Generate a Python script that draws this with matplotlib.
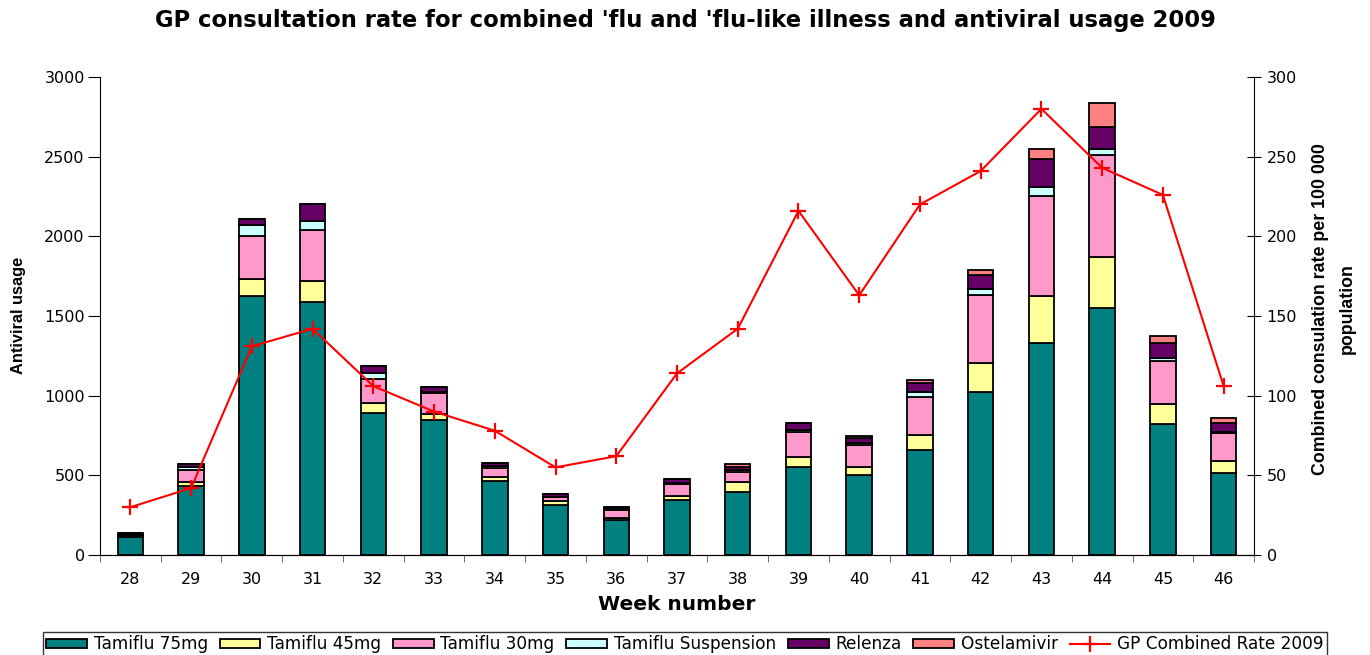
import matplotlib
matplotlib.use("Agg")
import matplotlib.pyplot as plt
import numpy as np
from matplotlib.patches import Patch
from matplotlib.lines import Line2D

plt.rcParams['font.family'] = ['DejaVu Sans']

weeks = [28, 29, 30, 31, 32, 33, 34, 35, 36, 37, 38, 39, 40, 41, 42, 43, 44, 45, 46]
tamiflu_75 = [115, 433, 1625, 1586, 893, 847, 464, 314, 220, 345, 395, 552, 502, 659, 1021, 1329, 1548, 822, 517]
tamiflu_45 = [3, 27, 109, 136, 59, 38, 26, 23, 14, 23, 61, 61, 48, 92, 182, 296, 324, 126, 75]
tamiflu_30 = [5, 73, 268, 318, 153, 130, 58, 25, 48, 76, 67, 157, 140, 243, 429, 628, 638, 271, 172]
tamiflu_susp = [2, 21, 69, 54, 39, 7, 10, 5, 5, 10, 8, 14, 10, 27, 37, 57, 40, 19, 6]
relenza = [11, 15, 36, 107, 42, 34, 19, 18, 14, 25, 19, 42, 32, 61, 88, 173, 138, 91, 56]
ostelamivir = [0, 0, 0, 0, 0, 0, 0, 0, 0, 0, 21, 4, 17, 16, 32, 67, 147, 45, 32]
gp_rate = [30, 42, 131, 142, 106, 90, 78, 55, 62, 114, 142, 216, 163, 220, 241, 280, 243, 226, 106]

series = [
    ("Tamiflu 75mg", tamiflu_75, "#008080"),
    ("Tamiflu 45mg", tamiflu_45, "#FFFF99"),
    ("Tamiflu 30mg", tamiflu_30, "#FF99CC"),
    ("Tamiflu Suspension", tamiflu_susp, "#CCFFFF"),
    ("Relenza", relenza, "#660066"),
    ("Ostelamivir", ostelamivir, "#FF8080"),
]

W, H = 1370, 655
fig = plt.figure(figsize=(13.7, 6.55), dpi=100)
ax = fig.add_axes([100/W, 100/H, 1154/W, 478/H])
x = np.arange(len(weeks))
bottom = np.zeros(len(weeks))
handles = []
for name, vals, col in series:
    v = np.array(vals, dtype=float)
    ax.bar(x, v, bottom=bottom, width=0.42, color=col, edgecolor="black", linewidth=1.3, zorder=2)
    bottom += v
    handles.append(Patch(facecolor=col, edgecolor="black", linewidth=1.3, label=name))

ax.set_xlim(-0.5, len(weeks) - 0.5)
ax.set_ylim(0, 3000)
ax.set_yticks(np.arange(0, 3001, 500))
ax.set_xticks(x)
ax.set_xticklabels([str(w) for w in weeks])
ax.set_xticks(np.arange(-0.5, len(weeks), 1), minor=True)
ax.tick_params(axis='x', which='major', length=0, labelsize=11.5, pad=12)
ax.tick_params(axis='x', which='minor', length=5, direction='out', color='#555555')
ax.tick_params(axis='y', which='major', length=9, direction='out', labelsize=11.5, pad=2)
ax.spines['top'].set_visible(False)
ax.spines['right'].set_visible(False)

ax2 = ax.twinx()
ax2.plot(x, gp_rate, color="#FF0000", marker='+', markersize=12, markeredgewidth=1.6, linewidth=1.5, zorder=3)
ax2.set_ylim(0, 300)
ax2.set_yticks(np.arange(0, 301, 50))
ax2.tick_params(axis='y', length=10, direction='inout', labelsize=11.5, pad=4)
ax2.spines['top'].set_visible(False)
ax2.spines['left'].set_visible(False)

fig.text(677/W, 1 - 604/H, "Week number", ha='center', va='center', fontsize=14.5, fontweight='bold')
fig.text(19/W, 1 - 315/H, "Antiviral usage", ha='center', va='center', rotation=90,
         fontsize=11.8, fontweight='bold', family=['Liberation Sans', 'DejaVu Sans'])
fig.text(1334/W, 1 - 309/H, "Combined consulation rate per 100 000\npopulation", ha='center', va='center',
         rotation=90, multialignment='center', linespacing=1.75,
         fontsize=12.8, fontweight='bold', family=['Liberation Sans', 'DejaVu Sans'])

fig.text(0.5, 1 - 20/H, "GP consultation rate for combined 'flu and 'flu-like illness and antiviral usage 2009",
         ha='center', va='center', fontsize=16.3, fontweight='bold')

handles.append(Line2D([0], [0], color="#FF0000", marker='+', markersize=12, markeredgewidth=1.6, linewidth=1.5,
                      label="GP Combined Rate 2009"))
leg = fig.legend(handles=handles, loc='upper center', bbox_to_anchor=(0.5, 1 - 632/H), ncol=7,
                 fontsize=12.2, frameon=True, fancybox=False, edgecolor='black', handlelength=2.4,
                 handleheight=0.45, handletextpad=0.4, columnspacing=0.7, borderpad=0.2,
                 borderaxespad=0)
leg.get_frame().set_linewidth(1.0)

fig.savefig("out.png", dpi=100)
